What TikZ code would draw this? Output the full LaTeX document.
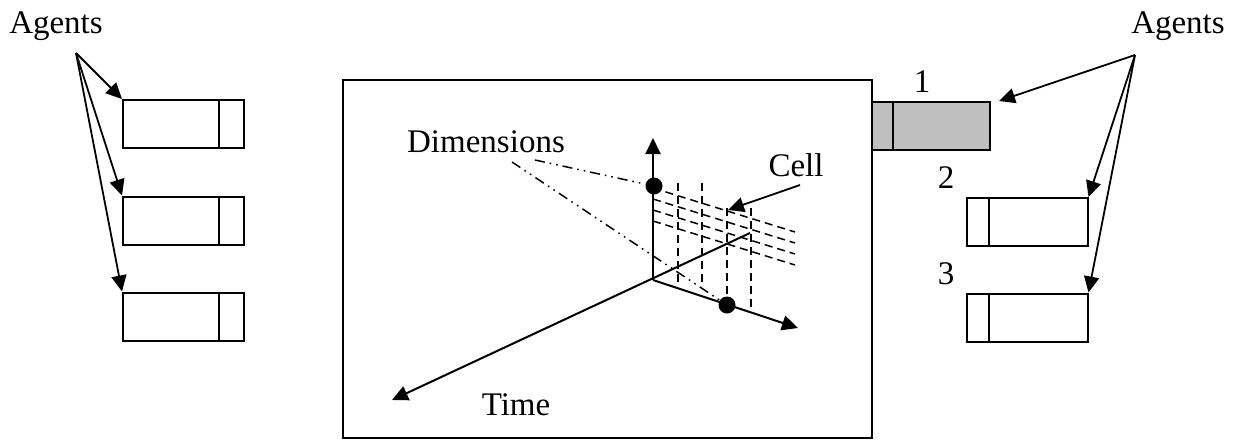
\documentclass[tikz,border=0pt]{standalone}
\usepackage{fontspec}
\setmainfont{Liberation Serif}
\usetikzlibrary{arrows.meta,calc}
\begin{document}
\begin{tikzpicture}[x=0.5pt,y=-0.5pt,
  lbl/.style={font=\fontsize{16.5}{19}\selectfont, inner sep=0pt, anchor=base},
  agentbox/.style={draw, line width=1pt, minimum width=60.5pt, minimum height=24pt, inner sep=0pt},
  grayagent/.style={agentbox, fill=black!25, minimum width=59pt},
  tip/.style={-{Triangle[length=8pt,width=7.5pt]}},
  arr/.style={line width=0.9pt, tip},
  axis/.style={line width=1pt},
  grid/.style={line width=0.75pt, dash pattern=on 4pt off 2.5pt},
  dimline/.style={line width=0.75pt, dash pattern=on 5pt off 2.5pt on 0.8pt off 2.5pt on 0.8pt off 2.5pt},
  dot/.style={circle, fill=black, inner sep=0pt, minimum size=8.5pt}]
\useasboundingbox (0,0) rectangle (1238,440);

% central frame
\node[draw, line width=1pt, minimum width=264.5pt, minimum height=179pt, inner sep=0pt] (frame) at (607.5,259) {};

% left agents
\node[lbl] (agL) at (56,33) {Agents};
\coordinate (aL) at (76,53);
\node[agentbox] (L1) at (183.5,124) {};
\node[agentbox] (L2) at (183.5,220.5) {};
\node[agentbox] (L3) at (183.5,316.5) {};
\foreach \b in {L1,L2,L3}{
  \draw[line width=1pt] ($(\b.north west)+(97,0)$) -- ($(\b.south west)+(97,0)$);
}
\draw[arr] (aL) -- (L1.north west);
\draw[arr] (aL) -- (L2.north west);
\draw[arr] (aL) -- (L3.north west);

% right agents
\node[lbl] (agR) at (1178,33) {Agents};
\coordinate (aR) at (1135,55);
\node[grayagent] (R1) at (931,126) {};
\node[agentbox] (R2) at (1027,222) {};
\node[agentbox] (R3) at (1027,317.5) {};
\draw[line width=1pt] ($(R1.north west)+(22,0)$) -- ($(R1.south west)+(22,0)$);
\draw[line width=1pt] ($(R2.north west)+(23,0)$) -- ($(R2.south west)+(23,0)$);
\draw[line width=1pt] ($(R3.north west)+(23,0)$) -- ($(R3.south west)+(23,0)$);
\node[lbl] (n1) at (922,92) {1};
\node[lbl] (n2) at (946,188) {2};
\node[lbl] (n3) at (946,284) {3};
\draw[arr] (aR) -- ([xshift=4pt]R1.north east);
\draw[arr] (aR) -- (R2.north east);
\draw[arr] (aR) -- (R3.north east);

% axes
\coordinate (O) at (653,280);
\coordinate (up) at (653,138);
\coordinate (rt) at (798,328);
\coordinate (tb) at (750,233);
\coordinate (tf) at (392,400);
\draw[axis, tip] (O) -- (up);
\draw[axis, tip] (O) -- (rt);
\draw[axis, tip] (tb) -- (tf);

% grid
\foreach \y in {188,199,210,221}{
  \draw[grid] (653,\y) -- (795,\y+44);
}
\draw[grid] (678,183) -- (678,282);
\draw[grid] (702,183) -- (702,282);
\draw[grid] (727,208) -- (727,300);
\draw[grid] (751,208) -- (751,307);

% dots
\node[dot] (d1) at (654,186) {};
\node[dot] (d2) at (727,305) {};

% labels
\node[lbl] (dim) at (486,152) {Dimensions};
\coordinate (dimA) at (535,160);
\coordinate (dimB) at (512,162);
\draw[dimline] (dimA) -- (d1);
\draw[dimline] (dimB) -- (d2);
\node[lbl] (cell) at (796,176) {Cell};
\coordinate (cellS) at (800,185);
\draw[arr] (cellS) -- (728,210);
\node[lbl] (time) at (516,415) {Time};
\end{tikzpicture}
\end{document}
